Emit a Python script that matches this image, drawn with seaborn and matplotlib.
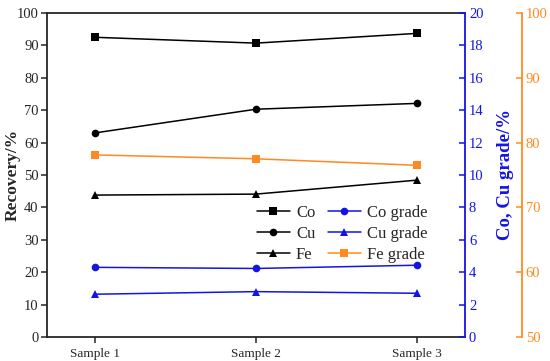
import matplotlib
matplotlib.use("Agg")
import matplotlib.pyplot as plt
import seaborn as sns
import pandas as pd

samples = ["Sample 1", "Sample 2", "Sample 3"]
co_rec = [92.5, 90.7, 93.7]
cu_rec = [63.0, 70.3, 72.1]
fe_rec = [43.8, 44.1, 48.4]
co_grade = [4.30, 4.23, 4.43]
cu_grade = [2.64, 2.80, 2.70]
fe_grade = [78.1, 77.5, 76.5]

sns.set_style("ticks")
plt.rcParams['font.family'] = ['Liberation Serif', 'DejaVu Serif']
plt.rcParams['mathtext.fontset'] = 'stix'

BLUE = '#1414E6'
ORANGE = '#FF8A1F'

fig = plt.figure(figsize=(5.5, 3.61), dpi=100)
ax = fig.add_axes([0.0855, 0.0665, 0.845 - 0.0855, 0.964 - 0.0665])
ax2 = ax.twinx()
ax3 = ax.twinx()

lw = 1.1
ms = 5.5
for vals, mk, lab in [(co_rec, 's', 'Co'), (cu_rec, 'o', 'Cu'), (fe_rec, '^', 'Fe')]:
    df = pd.DataFrame({'x': samples, 'y': vals})
    sns.lineplot(data=df, x='x', y='y', ax=ax, color='black', marker=mk,
                 markersize=ms, markeredgewidth=0, linewidth=lw, label=lab, legend=False, sort=False)
for vals, mk, lab in [(co_grade, 'o', 'Co grade'), (cu_grade, '^', 'Cu grade')]:
    df = pd.DataFrame({'x': samples, 'y': vals})
    sns.lineplot(data=df, x='x', y='y', ax=ax2, color=BLUE, marker=mk,
                 markersize=ms, markeredgewidth=0, linewidth=lw, label=lab, legend=False, sort=False)
df = pd.DataFrame({'x': samples, 'y': fe_grade})
sns.lineplot(data=df, x='x', y='y', ax=ax3, color=ORANGE, marker='s',
             markersize=ms, markeredgewidth=0, linewidth=lw, label='Fe grade', legend=False, sort=False)

ax.set_xlim(-0.3, 2.3)
ax.set_ylim(0, 100)
ax.set_yticks(range(0, 101, 10))
ax2.set_ylim(0, 20)
ax2.set_yticks(range(0, 21, 2))
ax3.set_ylim(50, 100)
ax3.set_yticks(range(50, 101, 10))

ax.set_xlabel('')
ax.set_ylabel('Recovery/%', fontsize=12.5, fontweight='bold')
ax.yaxis.set_label_coords(-0.062, 0.5)
ax2.set_ylabel('Co, Cu grade/%', fontsize=13.5, fontweight='bold', color=BLUE)
ax2.yaxis.set_label_coords(1.077, 0.5)
ax3.set_ylabel('')

for a in (ax, ax2, ax3):
    for s in a.spines.values():
        s.set_linewidth(1.3)
ax.spines['right'].set_visible(False)
ax2.spines['left'].set_visible(False)
ax3.spines['left'].set_visible(False)
ax2.spines['top'].set_visible(False)
ax3.spines['top'].set_visible(False)
ax2.spines['bottom'].set_visible(False)
ax3.spines['bottom'].set_visible(False)
ax2.spines['right'].set_color(BLUE)
ax3.spines['right'].set_color(ORANGE)
ax3.spines['right'].set_position(('outward', 41))

ax.tick_params(axis='y', direction='out', labelsize=10.5, width=1.1, length=4, pad=2)
ax.tick_params(axis='x', direction='out', labelsize=9.5, width=1.1, length=4, pad=4)
ax2.tick_params(axis='y', direction='in', colors=BLUE, labelsize=10.5, width=1.1, length=4, pad=3)
ax3.tick_params(axis='y', direction='in', colors=ORANGE, labelsize=10.5, width=1.1, length=4, pad=3)

handles = []
labels = []
for a in (ax, ax2, ax3):
    hh, ll = a.get_legend_handles_labels()
    handles += hh
    labels += ll
leg = ax3.legend(handles, labels, ncol=2, loc='upper left', bbox_to_anchor=(0.502, 0.407),
                 frameon=False, fontsize=12, handlelength=2.0, handletextpad=0.35,
                 columnspacing=0.75, labelspacing=0.30, borderpad=0.0, borderaxespad=0.0)

fig.savefig('out.png', dpi=100)
